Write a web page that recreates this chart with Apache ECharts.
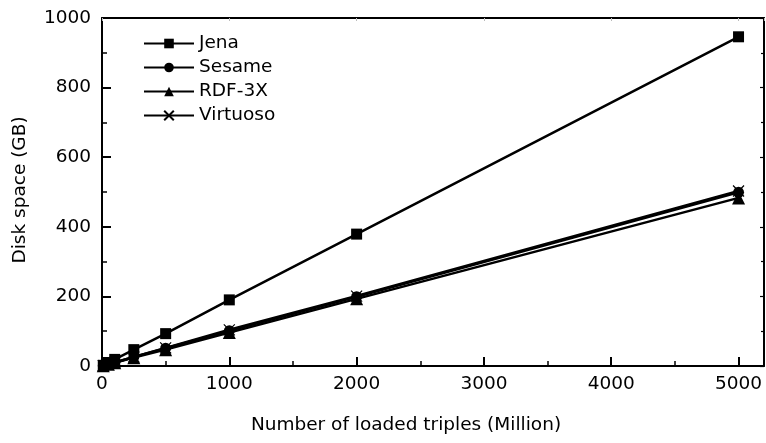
<!DOCTYPE html>
<html>
<head>
<meta charset="utf-8">
<script src="https://cdn.jsdelivr.net/npm/echarts@6/dist/echarts.min.js"></script>
<style>
html,body{margin:0;padding:0;background:#fff;}
#chart{width:766px;height:443px;}
</style>
</head>
<body>
<div id="chart"></div>
<script>
var xValues = [10, 50, 100, 250, 500, 1000, 2000, 5000];
var jena = [2, 10, 19, 47, 93, 190, 379, 946];
var sesame = [1, 5, 10, 26, 51, 101, 199, 499];
var rdf3x = [1, 5, 9, 24, 47, 96, 193, 483];
var virtuoso = [1, 5, 10, 26, 52, 104, 201, 503];
var seriesNames = ['Jena', 'Sesame', 'RDF-3X', 'Virtuoso'];
var xAxisTitle = 'Number of loaded triples (Million)';
var yAxisTitle = 'Disk space (GB)';

function pairs(ys) { return xValues.map(function (x, i) { return [x, ys[i]]; }); }
function plain(v) { return String(v); }

var FONT = '"DejaVu Sans", sans-serif';
var FS = 18.5;
var xSymbol = 'path://M0,0L10,10M10,0L0,10';

function mkSeries(name, ys, symbol, size, stroke) {
  return {
    name: name, type: 'line', data: pairs(ys),
    symbol: symbol, symbolSize: size, showSymbol: true,
    lineStyle: { color: '#000', width: 2.5 },
    itemStyle: stroke ? { color: 'rgba(0,0,0,0)', borderColor: '#000', borderWidth: 1.2 } : { color: '#000', borderWidth: 0 },
    emphasis: { disabled: true },
    animation: false
  };
}

var chart = echarts.init(document.getElementById('chart'), null, { renderer: 'canvas' });
var tickInside = { show: true, inside: true, length: 9, lineStyle: { color: '#000', width: 2 } };
var minorInside = { show: true, splitNumber: 2, length: 5, lineStyle: { color: '#000', width: 1.5 } };
chart.setOption({
  animation: false,
  backgroundColor: '#fff',
  grid: { left: 102, right: 2, top: 18, bottom: 77, show: false },
  legend: {
    left: 138, top: 29, orient: 'vertical', itemWidth: 50, itemHeight: 12, itemGap: 5,
    textStyle: { fontFamily: FONT, fontSize: FS, color: '#000' },
    data: seriesNames
  },
  xAxis: [{
    type: 'value', min: 0, max: 5200, interval: 1000,
    axisLine: { show: true, onZero: false, lineStyle: { color: '#000', width: 2 } },
    axisTick: tickInside, minorTick: minorInside,
    splitLine: { show: false },
    axisLabel: { showMaxLabel: false, margin: 9, fontFamily: FONT, fontSize: FS, color: '#000', formatter: plain }
  }, {
    type: 'value', position: 'top', min: 0, max: 5200, interval: 1000,
    axisLine: { show: true, onZero: false, lineStyle: { color: '#000', width: 2 } },
    axisTick: { show: true, inside: true, length: 3, lineStyle: { color: '#bbb', width: 1 } },
    splitLine: { show: false }, axisLabel: { show: false }
  }],
  yAxis: [{
    type: 'value', min: 0, max: 1000, interval: 200,
    axisLine: { show: true, onZero: false, lineStyle: { color: '#000', width: 2 } },
    axisTick: tickInside, minorTick: minorInside,
    splitLine: { show: false },
    axisLabel: { margin: 11, fontFamily: FONT, fontSize: FS, color: '#000', formatter: plain }
  }, {
    type: 'value', position: 'right', min: 0, max: 1000, interval: 200,
    axisLine: { show: true, onZero: false, lineStyle: { color: '#000', width: 2 } },
    axisTick: { show: true, inside: true, length: 4, lineStyle: { color: '#000', width: 1.2 } },
    minorTick: { show: true, splitNumber: 2, length: 3, lineStyle: { color: '#000', width: 1.2 } },
    splitLine: { show: false }, axisLabel: { show: false }
  }],
  graphic: [
    { type: 'text', x: 406, y: 425,
      style: { text: xAxisTitle, font: FS + 'px ' + FONT, fill: '#000', align: 'center', verticalAlign: 'middle' } },
    { type: 'text', rotation: Math.PI / 2, x: 20, y: 190,
      style: { text: yAxisTitle, font: FS + 'px ' + FONT, fill: '#000', align: 'center', verticalAlign: 'middle' } }
  ],
  series: [
    mkSeries('Jena', jena, 'rect', 11, false),
    mkSeries('Sesame', sesame, 'circle', 11, false),
    mkSeries('RDF-3X', rdf3x, 'triangle', 13, false),
    mkSeries('Virtuoso', virtuoso, xSymbol, 11, true)
  ]
});
</script>
</body>
</html>
